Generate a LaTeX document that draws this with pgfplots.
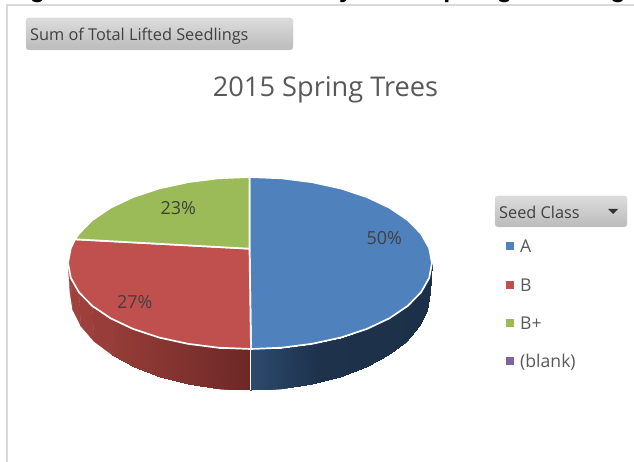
\documentclass[border=0pt]{standalone}
\usepackage{fontspec}
\setmainfont{Open Sans}
\newfontfamily\headfont{Liberation Sans}[BoldFont={Liberation Sans Bold}]
\usepackage{pgfplots}
\pgfplotsset{compat=1.18}
\definecolor{pieblue}{HTML}{4F81BD}
\definecolor{piered}{HTML}{C0504D}
\definecolor{piegreen}{HTML}{9BBB59}
\definecolor{piepurple}{HTML}{8064A2}
\definecolor{framegray}{HTML}{D9D9D9}
\definecolor{titlegray}{HTML}{595959}
\definecolor{labelgray}{HTML}{404040}
\definecolor{btntop}{HTML}{DCDCDC}
\definecolor{btnbot}{HTML}{BBBBBB}
\definecolor{sidea}{RGB}{161,66,62}
\definecolor{sideb}{RGB}{159,65,61}
\definecolor{sidec}{RGB}{157,64,60}
\definecolor{sided}{RGB}{152,61,58}
\tikzset{
    headglyph/.style={anchor=base,inner sep=0pt,font=\headfont\bfseries\fontsize{25}{28}\selectfont},
    legtext/.style={anchor=base west,inner sep=0pt,text=titlegray,font=\fontsize{17.6}{19}\selectfont},
    btntext/.style={anchor=base west,inner sep=0pt,text=labelgray,font=\fontsize{16.3}{18}\selectfont},
}

\begin{document}
\begin{tikzpicture}
\useasboundingbox (0,0) rectangle (634pt,462pt);
\begin{axis}[
    scale only axis,
    width=634pt,
    height=462pt,
    xmin=0, xmax=634,
    ymin=0, ymax=462,
    y dir=reverse,
    axis lines=none,
    point meta min=68,
    point meta max=432,
    colormap={pieside}{
        rgb255(68pt)=(162,66,62)
        rgb255(160pt)=(136,54,50)
        rgb255(250pt)=(108,40,38)
        rgb255(251pt)=(44,74,110)
        rgb255(317pt)=(30,50,76)
        rgb255(432pt)=(28,48,72)
    },
]
% side of the pie, rest of the red half
\addplot[patch,patch type=rectangle,shader=interp,point meta=x] coordinates {
    (110.6,318.3) (133,328.9) (134.3,367.3) (112.1,355.4)
    (133,328.9) (159,337.5) (160,377) (134.3,367.3)
    (159,337.5) (187.8,343.8) (188.4,384.2) (160,377)
    (187.8,343.8) (218.4,347.7) (218.7,388.5) (188.4,384.2)
    (218.4,347.7) (250,349) (250,390) (218.7,388.5)
};
% side of the pie, narrow strips on the far left in flat colours
\addplot[fill=sidea,draw=sidea,line width=0.3pt] coordinates {(68,263) (70.8,277.9) (72.7,309.8) (70,293)} -- cycle;
\addplot[fill=sideb,draw=sideb,line width=0.3pt] coordinates {(70.8,277.9) (79,292.4) (80.9,326.2) (72.7,309.8)} -- cycle;
\addplot[fill=sidec,draw=sidec,line width=0.3pt] coordinates {(79,292.4) (92.4,306) (94.1,341.5) (80.9,326.2)} -- cycle;
\addplot[fill=sided,draw=sided,line width=0.3pt] coordinates {(92.4,306) (113,319.5) (115,357) (94.1,341.5)} -- cycle;
% side of the pie, blue half
\addplot[patch,patch type=rectangle,shader=interp,point meta=x] coordinates {
    (251,349) (281.6,347.7) (281.3,388.5) (251,390)
    (281.6,347.7) (312.2,343.8) (311.6,384.2) (281.3,388.5)
    (312.2,343.8) (341,337.5) (340,377) (311.6,384.2)
    (341,337.5) (367,328.9) (365.7,367.3) (340,377)
    (367,328.9) (389.4,318.3) (387.9,355.4) (365.7,367.3)
    (389.4,318.3) (407.6,306) (405.9,341.5) (387.9,355.4)
    (407.6,306) (421,292.4) (419.1,326.2) (405.9,341.5)
    (421,292.4) (429.2,277.9) (427.3,309.8) (419.1,326.2)
    (429.2,277.9) (432,263) (430,293) (427.3,309.8)
};
% white trim: the shaded patches have hard edges
\addplot[white,line width=1.6pt,smooth] coordinates {
    (67.4,293) (70.1,310.2) (78.4,326.9) (91.8,342.4) (110,356.5) (132.5,368.6)
    (158.6,378.5) (187.4,385.7) (218.2,390.1) (250,391.6) (281.8,390.1) (312.6,385.7)
    (341.4,378.5) (367.5,368.6) (390,356.5) (408.2,342.4) (421.6,326.9) (429.9,310.2)
    (432.6,293)
};
\addplot[white,line width=1.4pt] coordinates {(250.5,349) (250.5,390)};
% top: A
\addplot[fill=pieblue,draw=white,line width=1.7pt,line join=round] coordinates {
    (249.5,248.7) (249.5,177) (281.6,178.3) (312.2,182.2) (341,188.5) (367,197.1)
    (389.4,207.7) (407.6,220) (421,233.6) (429.2,248.1) (432,263) (429.2,277.9)
    (421,292.4) (407.6,306) (389.4,318.3) (367,328.9) (341,337.5) (312.2,343.8)
    (281.6,347.7) (251,349) (249.5,248.7)
} -- cycle;
% top: B
\addplot[fill=piered,draw=white,line width=1.7pt,line join=round] coordinates {
    (249.5,248.7) (251,349) (218.4,347.7) (187.8,343.8) (159,337.5) (133,328.9)
    (110.6,318.3) (92.4,306) (79,292.4) (70.8,277.9) (68,263) (70.8,248.1)
    (75.1,239.3) (249.5,248.7)
} -- cycle;
% top: B+
\addplot[fill=piegreen,draw=white,line width=1.7pt,line join=round] coordinates {
    (249.5,248.7) (75.1,239.3) (79,233.6) (92.4,220) (110.6,207.7) (133,197.1)
    (159,188.5) (187.8,182.2) (218.4,178.3) (249.5,177) (249.5,248.7)
} -- cycle;
% percent labels
\addplot[only marks,mark=none,point meta=explicit symbolic,nodes near coords,
    every node near coord/.style={anchor=center,inner sep=0pt,
        font=\fontsize{18}{20}\selectfont,text=labelgray}] coordinates {
    (384.3,237.7)[50\%]
    (134.7,302.3)[27\%]
    (178.3,207.7)[23\%]
};
% legend swatches
\addplot[only marks,mark=square*,mark size=3.4pt,draw=pieblue,fill=pieblue] coordinates {(509.5,246)};
\addplot[only marks,mark=square*,mark size=3.4pt,draw=piered,fill=piered] coordinates {(509.5,284.5)};
\addplot[only marks,mark=square*,mark size=3.4pt,draw=piegreen,fill=piegreen] coordinates {(509.5,322.7)};
\addplot[only marks,mark=square*,mark size=3.4pt,draw=piepurple,fill=piepurple] coordinates {(509.5,361)};

% frame of the chart and the cut-off heading above it
\draw[framegray,line width=2pt] (axis cs:634,5) -- (axis cs:7,5) -- (axis cs:7,462);
\begin{scope}
\clip (axis cs:0,0) rectangle (axis cs:634,3.5);
\node[headglyph] at (axis cs:37.5,-2) {g};
\node[headglyph] at (axis cs:346,-2) {y};
\node[headglyph] at (axis cs:451,-2) {p};
\node[headglyph] at (axis cs:504.5,-2) {g};
\node[headglyph] at (axis cs:618,-2) {g};
\end{scope}

% field buttons
\path[draw=black!18,top color=btntop,bottom color=btnbot,rounded corners=3pt]
    (axis cs:26,18) rectangle (axis cs:293,50);
\path[draw=black!18,top color=btntop,bottom color=btnbot,rounded corners=3pt]
    (axis cs:495,196) rectangle (axis cs:627,227);
\fill[black!80] (axis cs:608,209) -- (axis cs:618,209) -- (axis cs:613,214) -- cycle;
\node[btntext] at (axis cs:30,40.7) {Sum of Total Lifted Seedlings};
\node[btntext] at (axis cs:499,219) {Seed Class};

% title
\node[anchor=base,inner sep=0pt,text=titlegray,font=\fontsize{27.2}{30}\selectfont]
    at (axis cs:325.5,96.5) {2015 Spring Trees};

% legend entries
\node[legtext] at (axis cs:520,252.7) {A};
\node[legtext] at (axis cs:520,291) {B};
\node[legtext] at (axis cs:520,329.6) {B+};
\node[legtext] at (axis cs:520,367.5) {(blank)};
\end{axis}
\end{tikzpicture}
\end{document}
